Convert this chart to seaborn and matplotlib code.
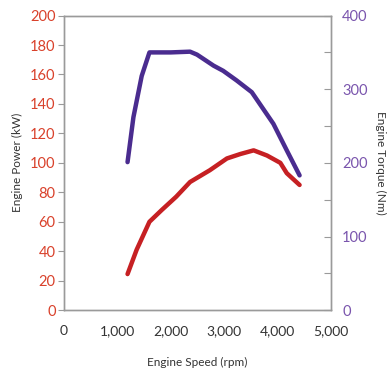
import numpy as np
import pandas as pd
import seaborn as sns
import matplotlib.pyplot as plt

# curvas
rpm_potencia = [1190, 1360, 1600, 1830, 2100, 2360, 2730, 3050, 3300, 3550, 3800, 4050, 4170, 4410]
potencia_kw = [24.5, 41, 60, 68, 77, 87, 95, 103, 106, 108.5, 105, 100, 93, 85]

rpm_torque = [1190, 1300, 1455, 1600, 2000, 2360, 2490, 2800, 2980, 3230, 3515, 3920, 4170, 4410]
torque_nm = [201, 262, 318, 350, 350, 351, 347, 332, 325, 312, 296, 253, 217, 183]

df_pot = pd.DataFrame({"rpm": rpm_potencia, "kw": potencia_kw})
df_tor = pd.DataFrame({"rpm": rpm_torque, "nm": torque_nm})

sns.set_style("white")
plt.rcParams['font.family'] = ['Lato', 'DejaVu Sans']

vermelho = "#c62023"
roxo = "#4a2c8f"
cinza = "#9a9a9a"

fig = plt.figure(figsize=(3.9, 3.71), dpi=100)
ax = fig.add_axes([0.164, 0.164, 0.685, 0.794])
ax2 = ax.twinx()

sns.lineplot(data=df_pot, x="rpm", y="kw", ax=ax, color=vermelho, linewidth=3.2, estimator=None, sort=False)
sns.lineplot(data=df_tor, x="rpm", y="nm", ax=ax2, color=roxo, linewidth=3.2, estimator=None, sort=False)

ax.set_xlim(0, 5000)
ax.set_ylim(0, 200)
ax2.set_ylim(0, 400)

ax.set_xticks([0, 1000, 2000, 3000, 4000, 5000])
ax.set_xticklabels(["0", "1,000", "2,000", "3,000", "4,000", "5,000"])
ax.set_yticks(np.arange(0, 201, 20))
ax2.set_yticks(np.arange(0, 401, 50))
ax2.set_yticklabels([str(v) if v % 100 == 0 else "" for v in range(0, 401, 50)])

ax.tick_params(axis="x", direction="in", length=4, color=cinza, labelsize=10, labelcolor="#333333", pad=11)
ax.tick_params(axis="y", direction="out", length=4, color=cinza, labelsize=10.5, labelcolor="#d9412b", pad=2)
ax2.tick_params(axis="y", direction="in", length=5, color=cinza, labelsize=10.5, labelcolor="#7a55ad", pad=8)

for a in (ax, ax2):
    for s in a.spines.values():
        s.set_color(cinza)
        s.set_linewidth(1)

ax.set_xlabel("Engine Speed (rpm)", fontsize=8.5, color="#333333", labelpad=14)
ax.set_ylabel("Engine Power (kW)", fontsize=8.5, color="#333333", labelpad=5)
ax2.set_ylabel("Engine Torque (Nm)", fontsize=8.5, color="#333333", rotation=270, labelpad=13)

fig.savefig("out.png", dpi=100)
